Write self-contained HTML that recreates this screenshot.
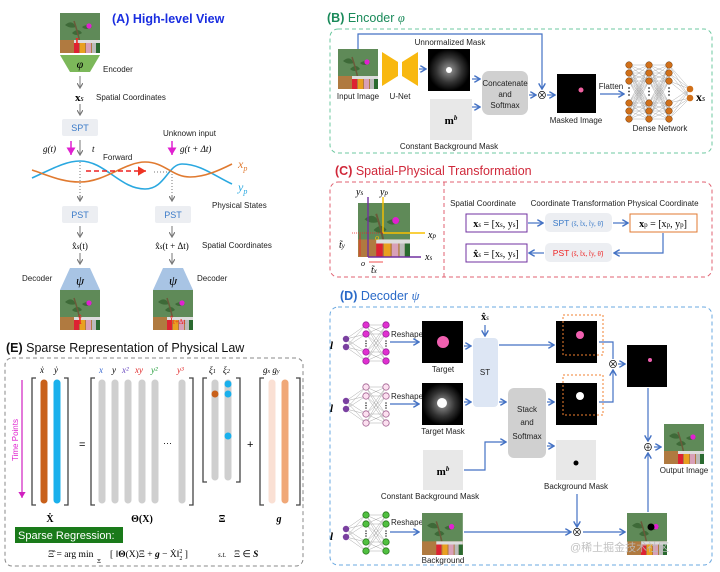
<!DOCTYPE html>
<html><head><meta charset="utf-8">
<style>
html,body{margin:0;padding:0;background:#fff;}
svg{display:block;font-family:"Liberation Sans","Noto Sans CJK SC",sans-serif;}
.s{font-size:8px;fill:#222;}
.m{font-family:"Liberation Serif",serif;}
</style></head><body>
<svg id="S" width="720" height="572" viewBox="0 0 720 572" xmlns="http://www.w3.org/2000/svg">
<defs>
<marker id="ag" markerWidth="6" markerHeight="6" refX="5" refY="3" orient="auto"><path d="M0,0 L5,3 L0,6" fill="none" stroke="#777" stroke-width="1.2"/></marker>
<marker id="ab" markerWidth="6" markerHeight="6" refX="5" refY="3" orient="auto"><path d="M0,0 L5,3 L0,6" fill="none" stroke="#4472c4" stroke-width="1.2"/></marker>
<marker id="am" markerWidth="6" markerHeight="6" refX="5" refY="3" orient="auto"><path d="M0,0 L5,3 L0,6 Z" fill="#e020d0"/></marker>
<marker id="ar" markerWidth="6" markerHeight="6" refX="5" refY="3" orient="auto"><path d="M0,0 L5,3 L0,6 Z" fill="#e32"/></marker>
<marker id="ak" markerWidth="6" markerHeight="6" refX="5" refY="3" orient="auto"><path d="M0,0 L5,3 L0,6 Z" fill="#d020c0"/></marker>
<g id="img">
<rect width="40" height="40" fill="#5f8a58"/>
<path d="M5,12 Q12,6 16,14 Q10,16 5,12Z M12,20 Q18,14 22,20 Q16,24 12,20Z M22,14 Q28,10 32,14 Q26,18 22,14Z" fill="#3e6a38"/>
<path d="M14,8 Q18,20 20,30" stroke="#6b5a3a" stroke-width="1.5" fill="none"/>
<circle cx="29" cy="13" r="2.6" fill="#e020d0"/>
<rect y="27" width="40" height="13" fill="#b07a40"/>
<rect x="14" y="27" width="26" height="3" fill="#ddd"/>
<rect x="14" y="30" width="5" height="10" fill="#d23"/><rect x="20" y="30" width="5" height="10" fill="#e9a020"/><rect x="26" y="30" width="5" height="10" fill="#d8a0b8"/><rect x="32" y="30" width="4" height="10" fill="#bbb"/><rect x="36" y="30" width="4" height="10" fill="#2a6a30"/>
</g>
<radialGradient id="glow"><stop offset="0" stop-color="#999"/><stop offset="0.6" stop-color="#333"/><stop offset="1" stop-color="#000"/></radialGradient>
</defs>

<!-- (A) -->
<text x="112" y="23" font-size="12.5" font-weight="bold" fill="#1a2ee0">(A) High-level View</text>
<use href="#img" x="60" y="13"/>
<text x="75" y="45" font-size="10" fill="#e22" font-weight="bold" class="m">I</text>
<path d="M60,55 L100,55 L90,72 L70,72Z" fill="#7cb85a"/>
<text x="80" y="68" font-size="12" text-anchor="middle" class="m" font-style="italic">φ</text>
<text x="103" y="72" class="s">Encoder</text>
<line x1="80" y1="76" x2="80" y2="88" stroke="#777" marker-end="url(#ag)"/>
<text x="75" y="101" font-size="11" font-weight="bold" class="m">x<tspan font-size="8" font-style="italic" font-weight="normal">s</tspan></text>
<text x="96" y="100" class="s">Spatial Coordinates</text>
<line x1="80" y1="104" x2="80" y2="115" stroke="#777" marker-end="url(#ag)"/>
<rect x="62" y="119" width="36" height="17" rx="2" fill="#eceef2"/>
<text x="80" y="131" font-size="9" text-anchor="middle" fill="#3a7ac8">SPT</text>
<text x="43" y="152" font-size="9" class="m" font-style="italic">g(t)</text>
<line x1="71" y1="141" x2="71" y2="155" stroke="#e020d0" stroke-width="1.5" marker-end="url(#am)"/>
<line x1="80" y1="140" x2="80" y2="155" stroke="#777" marker-end="url(#ag)"/>
<text x="92" y="152" font-size="9" class="m" font-style="italic">t</text>
<text x="163" y="136" class="s">Unknown input</text>
<line x1="172" y1="141" x2="172" y2="155" stroke="#e020d0" stroke-width="1.5" marker-end="url(#am)"/>
<text x="180" y="152" font-size="9" class="m" font-style="italic">g(t + Δt)</text>
<text x="103" y="160" class="s">Forward</text>
<path d="M32,178 C50,170 65,161 80,161 C105,161 120,189 145,189 C165,189 168,164 182,164 C200,164 215,176 232,184" stroke="#2aa8e0" stroke-width="1.6" fill="none"/>
<path d="M32,170 C50,176 62,182 80,182 C105,182 125,162 145,162 C165,162 172,177 190,177 C205,177 220,170 232,164" stroke="#e07a30" stroke-width="1.6" fill="none"/>
<line x1="86" y1="171" x2="146" y2="171" stroke="#e22" stroke-width="1.6" stroke-dasharray="5,3" marker-end="url(#ar)"/>
<line x1="154" y1="172" x2="170" y2="172" stroke="#777" stroke-dasharray="1,2"/>
<line x1="80" y1="162" x2="80" y2="200" stroke="#777" stroke-dasharray="1,2"/>
<line x1="172" y1="174" x2="172" y2="200" stroke="#777" stroke-dasharray="1,2"/>
<line x1="80" y1="195" x2="80" y2="201" stroke="#777" marker-end="url(#ag)"/>
<line x1="172" y1="195" x2="172" y2="201" stroke="#777" marker-end="url(#ag)"/>
<text x="238" y="168" font-size="12" fill="#e07a30" class="m" font-style="italic">x<tspan font-size="8" dy="3">p</tspan></text>
<text x="238" y="191" font-size="12" fill="#2aa8e0" class="m" font-style="italic">y<tspan font-size="8" dy="3">p</tspan></text>
<text x="212" y="208" class="s">Physical States</text>
<rect x="62" y="206" width="36" height="17" rx="2" fill="#eceef2"/>
<text x="80" y="218" font-size="9" text-anchor="middle" fill="#3a7ac8">PST</text>
<rect x="155" y="206" width="36" height="17" rx="2" fill="#eceef2"/>
<text x="173" y="218" font-size="9" text-anchor="middle" fill="#3a7ac8">PST</text>
<line x1="80" y1="226" x2="80" y2="237" stroke="#777" marker-end="url(#ag)"/>
<line x1="172" y1="226" x2="172" y2="237" stroke="#777" marker-end="url(#ag)"/>
<text x="80" y="249" font-size="9" text-anchor="middle" class="m">x̂<tspan font-size="7" font-style="italic">s</tspan>(t)</text>
<text x="172" y="249" font-size="9" text-anchor="middle" class="m">x̂<tspan font-size="7" font-style="italic">s</tspan>(t + Δt)</text>
<text x="202" y="248" class="s">Spatial Coordinates</text>
<line x1="80" y1="253" x2="80" y2="264" stroke="#777" marker-end="url(#ag)"/>
<line x1="172" y1="253" x2="172" y2="264" stroke="#777" marker-end="url(#ag)"/>
<path d="M70,268 L90,268 L100,290 L60,290Z" fill="#a8c4e4"/>
<path d="M163,268 L183,268 L193,290 L153,290Z" fill="#a8c4e4"/>
<text x="80" y="285" font-size="13" text-anchor="middle" class="m" font-style="italic">ψ</text>
<text x="173" y="285" font-size="13" text-anchor="middle" class="m" font-style="italic">ψ</text>
<text x="22" y="281" class="s">Decoder</text>
<text x="197" y="281" class="s">Decoder</text>
<use href="#img" x="60" y="290"/><use href="#img" x="153" y="290"/>
<text x="78" y="324" font-size="10" fill="#e22" font-weight="bold" class="m">Î</text>
<text x="170" y="324" font-size="9" fill="#e22" class="m">Î<tspan font-size="7">t+Δt</tspan></text>

<!-- (E) -->
<text x="6" y="352" font-size="12.5" fill="#111"><tspan font-weight="bold">(E)</tspan> Sparse Representation of Physical Law</text>
<rect x="5" y="358" width="298" height="208" rx="7" fill="none" stroke="#888" stroke-dasharray="4,3"/>
<g stroke="#444" stroke-width="1.3" fill="none">
<path d="M36,378 H32 V505 H36 M64,378 H68 V505 H64"/>
<path d="M95,378 H91 V505 H95 M189,378 H193 V505 H189"/>
<path d="M207,378 H203 V482 H207 M236,378 H240 V482 H236"/>
<path d="M264,378 H260 V505 H264 M296,378 H300 V505 H296"/>
</g>
<g stroke-linecap="round" stroke-width="7">
<line x1="44" y1="383" x2="44" y2="500" stroke="#c8601a"/>
<line x1="57" y1="383" x2="57" y2="500" stroke="#1ab0ec"/>
<g stroke="#cfcfcf"><line x1="102" y1="383" x2="102" y2="500"/><line x1="115" y1="383" x2="115" y2="500"/><line x1="128" y1="383" x2="128" y2="500"/><line x1="142" y1="383" x2="142" y2="500"/><line x1="155" y1="383" x2="155" y2="500"/><line x1="182" y1="383" x2="182" y2="500"/><line x1="215" y1="383" x2="215" y2="477"/><line x1="228" y1="383" x2="228" y2="477"/></g>
<line x1="272" y1="383" x2="272" y2="500" stroke="#fae0d4"/>
<line x1="285" y1="383" x2="285" y2="500" stroke="#f0a878"/>
</g>
<circle cx="215" cy="394" r="3.5" fill="#c8601a"/>
<circle cx="228" cy="384" r="3.5" fill="#1ab0ec"/><circle cx="228" cy="394" r="3.5" fill="#1ab0ec"/><circle cx="228" cy="436" r="3.5" fill="#1ab0ec"/>
<g font-size="9" class="m" font-style="italic">
<text x="40" y="373">ẋ</text><text x="54" y="373">ẏ</text>
<text x="99" y="373" fill="#3a6ad0">x</text><text x="112" y="373">y</text><text x="122" y="373" fill="#6a4ac0">x²</text><text x="135" y="373" fill="#e02a2a">xy</text><text x="151" y="373" fill="#2aa040">y²</text><text x="177" y="373" fill="#e02a2a">y³</text>
<text x="209" y="373">ξ<tspan font-size="6">1</tspan></text><text x="223" y="373">ξ<tspan font-size="6">2</tspan></text>
<text x="263" y="373">g<tspan font-size="6">x</tspan> g<tspan font-size="6">y</tspan></text>
</g>
<text x="79" y="448" font-size="11">=</text>
<text x="163" y="446" font-size="9">···</text>
<text x="247" y="448" font-size="11">+</text>
<text x="18" y="440" font-size="8" fill="#e020d0" transform="rotate(-90 18 440)" text-anchor="middle">Time Points</text>
<line x1="22" y1="380" x2="22" y2="498" stroke="#d020c0" stroke-width="1.2" marker-end="url(#ak)"/>
<g font-size="10" font-weight="bold" class="m" text-anchor="middle">
<text x="50" y="522">Ẋ</text><text x="142" y="522">Θ(X)</text><text x="222" y="522">Ξ</text><text x="279" y="522" font-style="italic">g</text>
</g>
<rect x="15" y="527" width="108" height="16" fill="#1a7a1a"/>
<text x="18" y="539" font-size="11" fill="#fff">Sparse Regression:</text>
<g class="m" font-size="9.5">
<text x="48" y="557">Ξ̂ = arg min</text>
<text x="97" y="563" font-size="6">Ξ</text>
<text x="110" y="557">[ ‖<tspan font-weight="bold">Θ</tspan>(X)Ξ + <tspan font-style="italic" font-weight="bold">g</tspan> − Ẋ‖<tspan font-size="6" dy="3">2</tspan><tspan font-size="6" dx="-3" dy="-7">2</tspan><tspan dy="4"> ]</tspan></text>
<text x="218" y="557" font-size="7" font-style="italic">s.t.</text>
<text x="234" y="557">Ξ ∈ <tspan font-style="italic" font-weight="bold">S</tspan></text>
</g>

<!-- (B) -->
<text x="327" y="22" font-size="12.5" fill="#1a8a5a"><tspan font-weight="bold">(B)</tspan> Encoder <tspan class="m" font-style="italic">φ</tspan></text>
<rect x="330" y="29" width="382" height="124" rx="8" fill="none" stroke="#6ec8a0" stroke-dasharray="4,3"/>
<use href="#img" x="338" y="49"/>
<text x="358" y="99" class="s" text-anchor="middle" font-size="7">Input Image</text>
<path d="M382,52 L398,62 L398,76 L382,86Z M418,52 L402,62 L402,76 L418,86Z" fill="#f8b810"/>
<text x="400" y="99" class="s" text-anchor="middle" font-size="7">U-Net</text>
<polyline points="358,49 358,34 542,34 542,89" fill="none" stroke="#4472c4" stroke-width="1.2" marker-end="url(#ab)"/>
<line x1="419" y1="69" x2="426" y2="69" stroke="#4472c4" stroke-width="1.2" marker-end="url(#ab)"/>
<text x="450" y="45" class="s" text-anchor="middle" font-size="7">Unnormalized Mask</text>
<rect x="428" y="49" width="42" height="42" fill="url(#glow)"/>
<circle cx="449" cy="70" r="3" fill="#fff"/>
<rect x="430" y="99" width="42" height="41" fill="#e8e8e8"/>
<text x="451" y="124" font-size="11" text-anchor="middle" class="m" font-weight="bold">m<tspan font-size="7" dy="-4" font-style="italic">b</tspan></text>
<text x="449" y="149" class="s" text-anchor="middle" font-size="7">Constant Background Mask</text>
<line x1="472" y1="79" x2="480" y2="79" stroke="#4472c4" stroke-width="1.2" marker-end="url(#ab)"/>
<line x1="472" y1="107" x2="480" y2="107" stroke="#4472c4" stroke-width="1.2" marker-end="url(#ab)"/>
<rect x="482" y="71" width="46" height="44" rx="7" fill="#d0d0d0"/>
<text x="505" y="86" class="s" text-anchor="middle" font-size="7">Concatenate</text>
<text x="505" y="97" class="s" text-anchor="middle" font-size="7">and</text>
<text x="505" y="108" class="s" text-anchor="middle" font-size="7">Softmax</text>
<line x1="529" y1="95" x2="536" y2="95" stroke="#4472c4" stroke-width="1.2" marker-end="url(#ab)"/>
<text x="542" y="99" font-size="10" text-anchor="middle">⊗</text>
<line x1="547" y1="95" x2="555" y2="95" stroke="#4472c4" stroke-width="1.2" marker-end="url(#ab)"/>
<rect x="557" y="74" width="39" height="39" fill="#000"/>
<circle cx="581" cy="90" r="2.5" fill="#f060a0"/>
<text x="576" y="123" class="s" text-anchor="middle" font-size="7">Masked Image</text>
<text x="611" y="89" class="s" text-anchor="middle" font-size="6">Flatten</text>
<line x1="600" y1="94" x2="624" y2="94" stroke="#4472c4" stroke-width="1.2" marker-end="url(#ab)"/>
<g id="dense"></g>
<text x="660" y="131" class="s" text-anchor="middle" font-size="7">Dense Network</text>
<text x="696" y="101" font-size="12" font-weight="bold" class="m">x<tspan font-size="8" font-style="italic" font-weight="normal">s</tspan></text>

<!-- (C) -->
<text x="335" y="175" font-size="12.5" fill="#d0283a"><tspan font-weight="bold">(C)</tspan> Spatial-Physical Transformation</text>
<rect x="330" y="182" width="382" height="95" rx="8" fill="none" stroke="#e06070" stroke-dasharray="4,3"/>
<line x1="444" y1="182" x2="444" y2="277" stroke="#e06070" stroke-dasharray="4,3"/>
<use href="#img" x="358" y="203" transform="translate(358 203) scale(1.3 1.35) translate(-358 -203)"/>
<line x1="368" y1="257" x2="368" y2="197" stroke="#7030a0" stroke-width="1.4"/>
<line x1="368" y1="257" x2="421" y2="257" stroke="#7030a0" stroke-width="1.4"/>
<line x1="383" y1="233" x2="383" y2="197" stroke="#f8c000" stroke-width="1.4"/>
<line x1="383" y1="233" x2="425" y2="233" stroke="#f8c000" stroke-width="1.4"/>
<line x1="352" y1="233" x2="383" y2="233" stroke="#e22" stroke-width="0.8" stroke-dasharray="1,1"/>
<line x1="360" y1="234" x2="360" y2="256" stroke="#e22" stroke-width="0.8"/>
<line x1="369" y1="262" x2="383" y2="262" stroke="#e22" stroke-width="0.8"/>
<g font-size="10" class="m" font-style="italic">
<text x="356" y="195">y<tspan font-size="7">s</tspan></text><text x="380" y="195">y<tspan font-size="7">p</tspan></text>
<text x="428" y="238">x<tspan font-size="7">p</tspan></text><text x="425" y="260">x<tspan font-size="7">s</tspan></text>
<text x="339" y="248">t̃<tspan font-size="7">y</tspan></text><text x="371" y="273">t̃<tspan font-size="7">x</tspan></text>
<text x="361" y="266" font-size="8">o</text><text x="375" y="240" font-size="8" fill="#f8c000">o</text>
</g>
<g class="s" font-size="7" text-anchor="middle">
<text x="483" y="206">Spatial Coordinate</text><text x="578" y="206">Coordinate Transformation</text><text x="663" y="206">Physical Coordinate</text>
</g>
<rect x="466" y="214" width="61" height="18" fill="#fff" stroke="#7030a0"/>
<text x="496" y="227" font-size="10" text-anchor="middle" class="m"><tspan font-weight="bold">x</tspan><tspan font-size="7" font-style="italic">s</tspan> = [x<tspan font-size="7">s</tspan>, y<tspan font-size="7">s</tspan>]</text>
<rect x="466" y="244" width="61" height="18" fill="#fff" stroke="#7030a0"/>
<text x="496" y="257" font-size="10" text-anchor="middle" class="m"><tspan font-weight="bold">x̂</tspan><tspan font-size="7" font-style="italic">s</tspan> = [x<tspan font-size="7">s</tspan>, y<tspan font-size="7">s</tspan>]</text>
<rect x="545" y="213" width="67" height="19" rx="5" fill="#eceef2"/>
<text x="578" y="226" font-size="8.5" text-anchor="middle" fill="#3a7ac8">SPT <tspan class="m" font-size="7">(s̃, t̃x, t̃y, θ̃)</tspan></text>
<rect x="545" y="243" width="67" height="19" rx="5" fill="#eceef2"/>
<text x="578" y="256" font-size="8.5" text-anchor="middle" fill="#e22">PST <tspan class="m" font-size="7">(s̃, t̃x, t̃y, θ̃)</tspan></text>
<rect x="630" y="214" width="67" height="18" fill="#fff" stroke="#e07a30"/>
<text x="663" y="227" font-size="10" text-anchor="middle" class="m"><tspan font-weight="bold">x</tspan><tspan font-size="7">p</tspan> = [x<tspan font-size="7">p</tspan>, y<tspan font-size="7">p</tspan>]</text>
<line x1="528" y1="223" x2="543" y2="223" stroke="#4472c4" stroke-width="1.2" marker-end="url(#ab)"/>
<line x1="613" y1="223" x2="628" y2="223" stroke="#4472c4" stroke-width="1.2" marker-end="url(#ab)"/>
<polyline points="663,233 663,253 614,253" fill="none" stroke="#4472c4" stroke-width="1.2" marker-end="url(#ab)"/>
<line x1="544" y1="253" x2="529" y2="253" stroke="#4472c4" stroke-width="1.2" marker-end="url(#ab)"/>

<!-- (D) -->
<text x="340" y="300" font-size="12.5" fill="#2a6ac8"><tspan font-weight="bold">(D)</tspan> Decoder <tspan class="m" font-style="italic">ψ</tspan></text>
<rect x="330" y="307" width="382" height="258" rx="8" fill="none" stroke="#6aa8e0" stroke-dasharray="4,3"/>
<g id="dnets"></g>
<g class="m" font-size="11" font-weight="bold" font-style="italic"><text x="330" y="349">l</text><text x="330" y="412">l</text><text x="330" y="540">l</text></g>
<g class="s" font-size="6.5"><text x="391" y="337">Reshape</text><text x="391" y="399">Reshape</text><text x="391" y="525">Reshape</text></g>
<g stroke="#4472c4" stroke-width="1.2" fill="none">
<line x1="390" y1="342" x2="419" y2="342" marker-end="url(#ab)"/>
<line x1="390" y1="404" x2="419" y2="404" marker-end="url(#ab)"/>
<line x1="390" y1="532" x2="419" y2="532" marker-end="url(#ab)"/>
<line x1="464" y1="346" x2="471" y2="346" marker-end="url(#ab)"/>
<line x1="464" y1="402" x2="471" y2="402" marker-end="url(#ab)"/>
<line x1="485" y1="325" x2="485" y2="336" marker-end="url(#ab)"/>
<line x1="499" y1="345" x2="554" y2="345" marker-end="url(#ab)"/>
<line x1="499" y1="402" x2="506" y2="402" marker-end="url(#ab)"/>
<line x1="547" y1="402" x2="554" y2="402" marker-end="url(#ab)"/>
<line x1="547" y1="446" x2="554" y2="446" marker-end="url(#ab)"/>
<polyline points="464,470 485,470 485,442 506,442" marker-end="url(#ab)"/>
<polyline points="599,342 613,342 613,359"/>
<polyline points="599,402 613,402 613,370" marker-end="url(#ab)"/>
<line x1="618" y1="364" x2="625" y2="364" marker-end="url(#ab)"/>
<line x1="577" y1="494" x2="577" y2="527" marker-end="url(#ab)"/>
<line x1="464" y1="532" x2="571" y2="532" marker-end="url(#ab)"/>
<line x1="583" y1="532" x2="625" y2="532" marker-end="url(#ab)"/>
<line x1="648" y1="388" x2="648" y2="441" marker-end="url(#ab)"/>
<line x1="648" y1="512" x2="648" y2="453" marker-end="url(#ab)"/>
<line x1="654" y1="447" x2="661" y2="447" marker-end="url(#ab)"/>
</g>
<text x="485" y="320" font-size="10" text-anchor="middle" class="m" font-weight="bold">x̂<tspan font-size="7" font-style="italic" font-weight="normal">s</tspan></text>
<rect x="422" y="321" width="41" height="42" fill="#000"/><circle cx="443" cy="342" r="6" fill="#f060b0"/>
<text x="443" y="372" class="s" font-size="7" text-anchor="middle">Target</text>
<rect x="422" y="383" width="41" height="42" fill="url(#glow)"/><circle cx="442" cy="403" r="5" fill="#fff"/>
<text x="443" y="434" class="s" font-size="7" text-anchor="middle">Target Mask</text>
<rect x="473" y="338" width="25" height="69" rx="4" fill="#dde6f4"/>
<text x="485" y="375" class="s" font-size="8" text-anchor="middle">ST</text>
<rect x="508" y="388" width="38" height="70" rx="6" fill="#d0d0d0"/>
<text x="527" y="412" class="s" font-size="7.5" text-anchor="middle">Stack</text>
<text x="527" y="425" class="s" font-size="7.5" text-anchor="middle">and</text>
<text x="527" y="439" class="s" font-size="7.5" text-anchor="middle">Softmax</text>
<rect x="423" y="450" width="40" height="40" fill="#e8e8e8"/>
<text x="443" y="475" font-size="11" text-anchor="middle" class="m" font-weight="bold">m<tspan font-size="7" dy="-4" font-style="italic">b</tspan></text>
<text x="430" y="499" class="s" font-size="7" text-anchor="middle">Constant Background Mask</text>
<rect x="556" y="440" width="40" height="40" fill="#e8e8e8"/><circle cx="576" cy="463" r="2.5" fill="#000"/>
<text x="576" y="489" class="s" font-size="7" text-anchor="middle">Background Mask</text>
<rect x="556" y="321" width="41" height="42" fill="#000"/><circle cx="580" cy="335" r="4" fill="#f060b0"/>
<rect x="563" y="315" width="40" height="40" fill="none" stroke="#f08030" stroke-dasharray="2,2"/>
<rect x="556" y="383" width="41" height="42" fill="#000"/><circle cx="580" cy="396" r="4" fill="#fff"/>
<rect x="563" y="375" width="40" height="40" fill="none" stroke="#f08030" stroke-dasharray="2,2"/>
<text x="613" y="368" font-size="10" text-anchor="middle">⊗</text>
<rect x="627" y="345" width="40" height="42" fill="#000"/><circle cx="650" cy="360" r="2" fill="#f060b0"/>
<text x="648" y="451" font-size="10" text-anchor="middle">⊕</text>
<use href="#img" x="664" y="424"/>
<text x="684" y="473" class="s" font-size="7" text-anchor="middle">Output Image</text>
<use href="#img" x="422" y="513" transform="translate(422 513) scale(1.02 1.05) translate(-422 -513)"/>
<text x="443" y="563" class="s" font-size="7" text-anchor="middle">Background</text>
<text x="577" y="536" font-size="10" text-anchor="middle">⊗</text>
<use href="#img" x="627" y="513" transform="translate(627 513) scale(1 1.05) translate(-627 -513)"/>
<circle cx="651" cy="527" r="3.5" fill="#000"/>
<text x="570" y="551" font-size="11" fill="#bbb" fill-opacity="0.9">@稀土掘金技术社区</text>
</svg>
<script>
var NS="http://www.w3.org/2000/svg";
function el(p,t,a){var e=document.createElementNS(NS,t);for(var k in a)e.setAttribute(k,a[k]);p.appendChild(e);return e;}
var d=document.getElementById("dense");
var ys=[65,73,81,103,111,119],xs=[629,649,669];
for(var c=0;c<2;c++)for(var i=0;i<6;i++)for(var j=0;j<6;j++)el(d,"line",{x1:xs[c],y1:ys[i],x2:xs[c+1],y2:ys[j],stroke:"#999","stroke-width":0.4});
for(var i=0;i<6;i++){el(d,"line",{x1:669,y1:ys[i],x2:690,y2:89,stroke:"#999","stroke-width":0.4});el(d,"line",{x1:669,y1:ys[i],x2:690,y2:98,stroke:"#999","stroke-width":0.4});}
for(var c=0;c<3;c++){for(var i=0;i<6;i++)el(d,"circle",{cx:xs[c],cy:ys[i],r:3.3,fill:"#d0701a",stroke:"#6a3a10","stroke-width":0.5});
 for(var k=0;k<3;k++)el(d,"circle",{cx:xs[c],cy:88+k*3.5,r:0.9,fill:"#333"});}
el(d,"circle",{cx:690,cy:89,r:3.3,fill:"#d0701a"});el(d,"circle",{cx:690,cy:98,r:3.3,fill:"#d0701a"});
var g=document.getElementById("dnets");
function net(cy,col,stroke){
 var ins=[cy-4,cy+4],h=[cy-18,cy-9,cy+9,cy+18],x0=346,x1=366,x2=386;
 for(var i=0;i<2;i++)for(var j=0;j<4;j++)el(g,"line",{x1:x0,y1:ins[i],x2:x1,y2:h[j],stroke:"#aaa","stroke-width":0.5});
 for(var i=0;i<4;i++)for(var j=0;j<4;j++)el(g,"line",{x1:x1,y1:h[i],x2:x2,y2:h[j],stroke:"#aaa","stroke-width":0.5});
 ins.forEach(function(y){el(g,"circle",{cx:x0,cy:y,r:3.2,fill:"#7a40a0"});});
 [x1,x2].forEach(function(x){h.forEach(function(y){el(g,"circle",{cx:x,cy:y,r:3.2,fill:col,stroke:stroke,"stroke-width":0.8});});
  for(var k=0;k<3;k++)el(g,"circle",{cx:x,cy:cy-2+k*2.5,r:0.8,fill:"#333"});});
}
net(343,"#e030d0","#a020a0");net(405,"#fce0f0","#a06090");net(533,"#50c040","#2a7a20");
</script>
</body></html>
